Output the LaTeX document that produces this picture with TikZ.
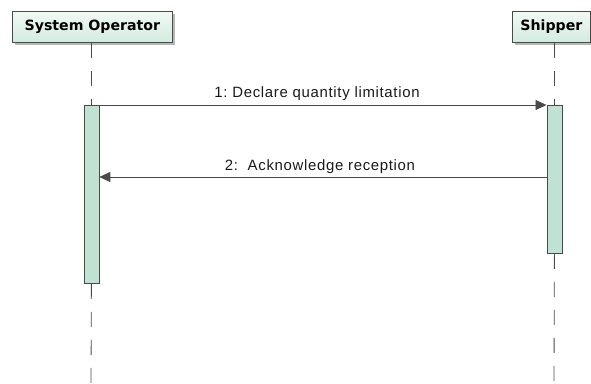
\documentclass[tikz,border=0pt]{standalone}
\usepackage{fontspec}
\setmainfont{Liberation Sans}
\newfontfamily\headfont{DejaVu Sans}
\newfontfamily\labelfont[LetterSpace=4.5]{Liberation Sans}
\usetikzlibrary{arrows.meta,shadows}
\definecolor{linegray}{HTML}{4A4A4A}
\definecolor{actfill}{HTML}{BFE2D3}
\definecolor{headtop}{HTML}{F2F9F5}
\definecolor{headbot}{HTML}{D3EBDF}
\tikzset{
  x=1bp, y=-1bp,
  headbox/.style={draw=linegray, line width=0.8bp, top color=headtop, bottom color=headbot,
    drop shadow={shadow xshift=2.5bp, shadow yshift=-2.5bp, fill=black!35, opacity=0.8},
    inner sep=0pt, font=\headfont\bfseries\fontsize{14.2}{17}\selectfont, anchor=north west},
  actbar/.style={draw=linegray, line width=0.8bp, fill=actfill, inner sep=0pt, anchor=north west},
  lifeline/.style={draw=linegray, line width=0.8bp, dash pattern=on 15bp off 13bp},
  msg/.style={draw=linegray, line width=0.9bp, -{Triangle[length=11bp,width=10bp]}},
  msglabel/.style={font=\labelfont\fontsize{15}{18}\selectfont, text=black!90, inner sep=0pt, anchor=base}
}
\begin{document}
\begin{tikzpicture}
\useasboundingbox (0,0) rectangle (591,383);
% participant heads
\node[headbox, minimum width=160bp, minimum height=31bp] (so) at (12,11) {System Operator};
\node[headbox, minimum width=78bp, minimum height=31bp] (sh) at (512,11) {Shipper};
% activation bars
\node[actbar, minimum width=15bp, minimum height=178bp] (soAct) at (83.5,105) {};
\node[actbar, minimum width=15bp, minimum height=148bp] (shAct) at (546.5,105) {};
% lifeline ends
\coordinate (soEnd) at (91,383);
\coordinate (shEnd) at (554,383);
% lifelines
\draw[lifeline] (so.south -| soAct.north) -- (soAct.north);
\draw[lifeline] (soAct.south) -- (soEnd);
\draw[lifeline] (sh.south -| shAct.north) -- (shAct.north);
\draw[lifeline] (shAct.south) -- (shEnd);
% messages
\draw[msg] (soAct.north east) -- (shAct.north west);
\node[msglabel] (l1) at (317,97) {1:\ Declare quantity limitation};
\coordinate (m2) at (320,177);
\draw[msg] (shAct.west |- m2) -- (soAct.east |- m2);
\node[msglabel] (l2) at (320,170) {2:\ \ Acknowledge reception};
\end{tikzpicture}
\end{document}
